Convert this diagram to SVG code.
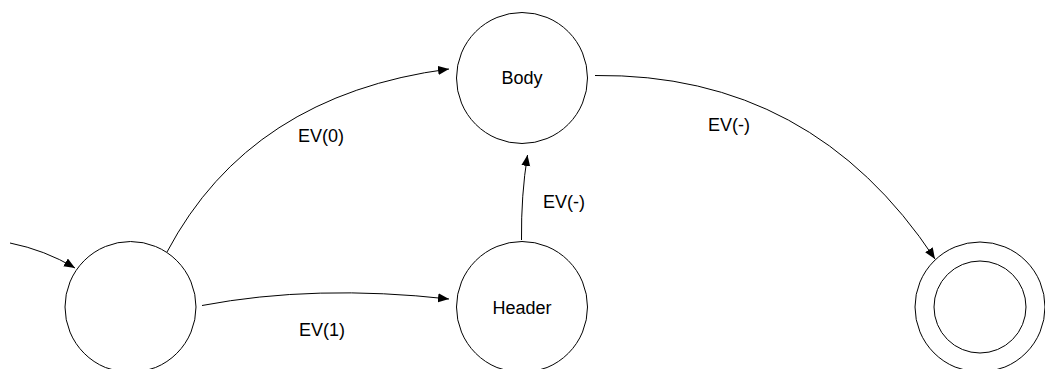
<svg xmlns="http://www.w3.org/2000/svg" width="1045" height="369" viewBox="0 0 1045 369">
<style>
.st{fill:#fff;stroke:#000;stroke-width:1}
.ed{fill:none;stroke:#000;stroke-width:1;marker-end:url(#ah)}
text{font-family:"Liberation Sans",Arial,sans-serif;font-size:18px;fill:#000}
.c{text-anchor:middle}
</style>
<defs>
<marker id="ah" markerUnits="userSpaceOnUse" markerWidth="12" markerHeight="10" refX="11" refY="4.5" orient="auto">
<path d="M0,0 L11,4.5 L0,9 z" fill="#000"/>
</marker>
</defs>
<rect width="1045" height="369" fill="#fff"/>
<g id="connectors">
<path class="ed" d="M10,243 Q45,250 75,268"/>
<path class="ed" d="M167,252 Q250,95 449,69"/>
<path class="ed" d="M202,305.5 Q315,284 449,299"/>
<path class="ed" d="M521.5,240 Q521,195 527.5,155"/>
<path class="ed" d="M595,75.5 Q812,73 935,259"/>
</g>
<g id="labels">
<text x="298" y="142">EV(0)</text>
<text x="299" y="336">EV(1)</text>
<text x="543" y="208">EV(-)</text>
<text x="708" y="131">EV(-)</text>
</g>
<g id="start">
<circle class="st" cx="130.5" cy="307" r="65.5"/>
</g>
<g id="body">
<circle class="st" cx="522" cy="78" r="65.5"/>
<text class="c" x="522" y="84">Body</text>
</g>
<g id="header">
<circle class="st" cx="522" cy="307" r="65.5"/>
<text class="c" x="522" y="314">Header</text>
</g>
<g id="final">
<circle class="st" cx="980" cy="307" r="65"/>
<circle class="st" cx="980" cy="307" r="46"/>
</g>
</svg>
